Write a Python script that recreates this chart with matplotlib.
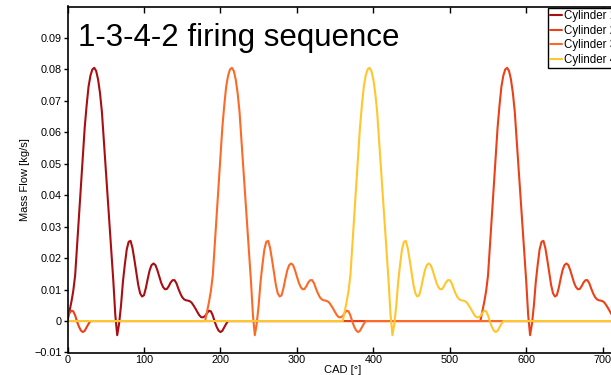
import numpy as np
import matplotlib
matplotlib.use("Agg")
import matplotlib.pyplot as plt

# Mass-flow profile of one cylinder (CAD relative to its opening)
profile_deg = np.arange(0, 210.1, 2.5)
profile_val = [
    0.0, 0.003, 0.006, 0.0095, 0.0145, 0.024, 0.0335, 0.0435, 0.053, 0.0615,
    0.0685, 0.0745, 0.0780, 0.0800, 0.0805, 0.0795, 0.0768, 0.0725, 0.0665, 0.0575,
    0.048, 0.039, 0.030, 0.021, 0.0125, 0.0020, -0.0045, -0.0008, 0.005, 0.0125,
    0.018, 0.0228, 0.0252, 0.0255, 0.0232, 0.0195, 0.0155, 0.0115, 0.0088, 0.0078,
    0.0082, 0.0105, 0.0135, 0.0162, 0.0178, 0.0183, 0.0178, 0.0162, 0.0142, 0.0122,
    0.0108, 0.0101, 0.0102, 0.0111, 0.0123, 0.0130, 0.0130, 0.0120, 0.0103, 0.0088,
    0.0076, 0.0069, 0.0066, 0.0065, 0.0063, 0.0058, 0.0049, 0.0039, 0.0028, 0.0018,
    0.0012, 0.0012, 0.0016, 0.0025, 0.0033, 0.0031, 0.0018, -0.0002, -0.0018, -0.0030,
    -0.0035, -0.0031, -0.0020, -0.0009, 0.0,
]

cylinders = ["Cylinder 1", "Cylinder 2", "Cylinder 3", "Cylinder 4"]
offsets = [0, 540, 180, 360]          # firing sequence 1-3-4-2
colors = ["#a80f12", "#ea4119", "#fc6a28", "#ffc62e"]

x_ticks = [0, 100, 200, 300, 400, 500, 600, 700]
y_ticks = [-0.01, 0, 0.01, 0.02, 0.03, 0.04, 0.05, 0.06, 0.07, 0.08, 0.09]
y_tick_labels = ["\u22120.01", "0", "0.01", "0.02", "0.03", "0.04", "0.05",
                 "0.06", "0.07", "0.08", "0.09"]

plt.rcParams["font.family"] = ["Liberation Sans", "DejaVu Sans"]

fig = plt.figure(figsize=(6.11, 3.75), dpi=100)
ax = fig.add_axes([67.5 / 611, 1 - 352.5 / 375, 550.5 / 611, 346 / 375])

grid = np.arange(0, 720.1, 2.5)
pv = np.array(profile_val)
n = len(pv)
for name, off, col in zip(cylinders, offsets, colors):
    rel = (grid - off) % 720
    idx = np.round(rel / 2.5).astype(int)
    vals = np.where(idx < n, pv[np.minimum(idx, n - 1)], 0.0)
    ax.plot(grid, vals, color=col, lw=1.5, label=name, solid_capstyle="round",
            solid_joinstyle="round")

ax.set_xlim(0, 720)
ax.set_ylim(-0.01, 0.1)
ax.set_xticks(x_ticks)
ax.set_xticklabels([str(t) for t in x_ticks])
ax.set_yticks(y_ticks)
ax.set_yticklabels(y_tick_labels)
ax.tick_params(axis="x", direction="in", length=4, width=1, labelsize=7.8,
               top=True, pad=2)
ax.tick_params(axis="y", direction="out", length=3, width=1, labelsize=7.8, pad=1)
for s in ax.spines.values():
    s.set_linewidth(1.2)
    s.set_color("black")

ax.set_xlabel("CAD [\u00b0]", fontsize=8, labelpad=0)
ax.set_ylabel("Mass Flow [kg/s]", fontsize=8, labelpad=3)

ax.text(13.7, 0.0873, "1-3-4-2 firing sequence", fontsize=22.5, va="baseline",
        ha="left", color="black")

leg = ax.legend(loc="upper left", bbox_to_anchor=(548 / 611, 1 - 8 / 375),
                bbox_transform=fig.transFigure, fontsize=8.3, frameon=True,
                fancybox=False, framealpha=1, edgecolor="black",
                handlelength=1.0, handletextpad=0.15, borderpad=0.2,
                labelspacing=0.22, borderaxespad=0)
leg.get_frame().set_linewidth(1.0)

fig.savefig("out.png", dpi=100)
